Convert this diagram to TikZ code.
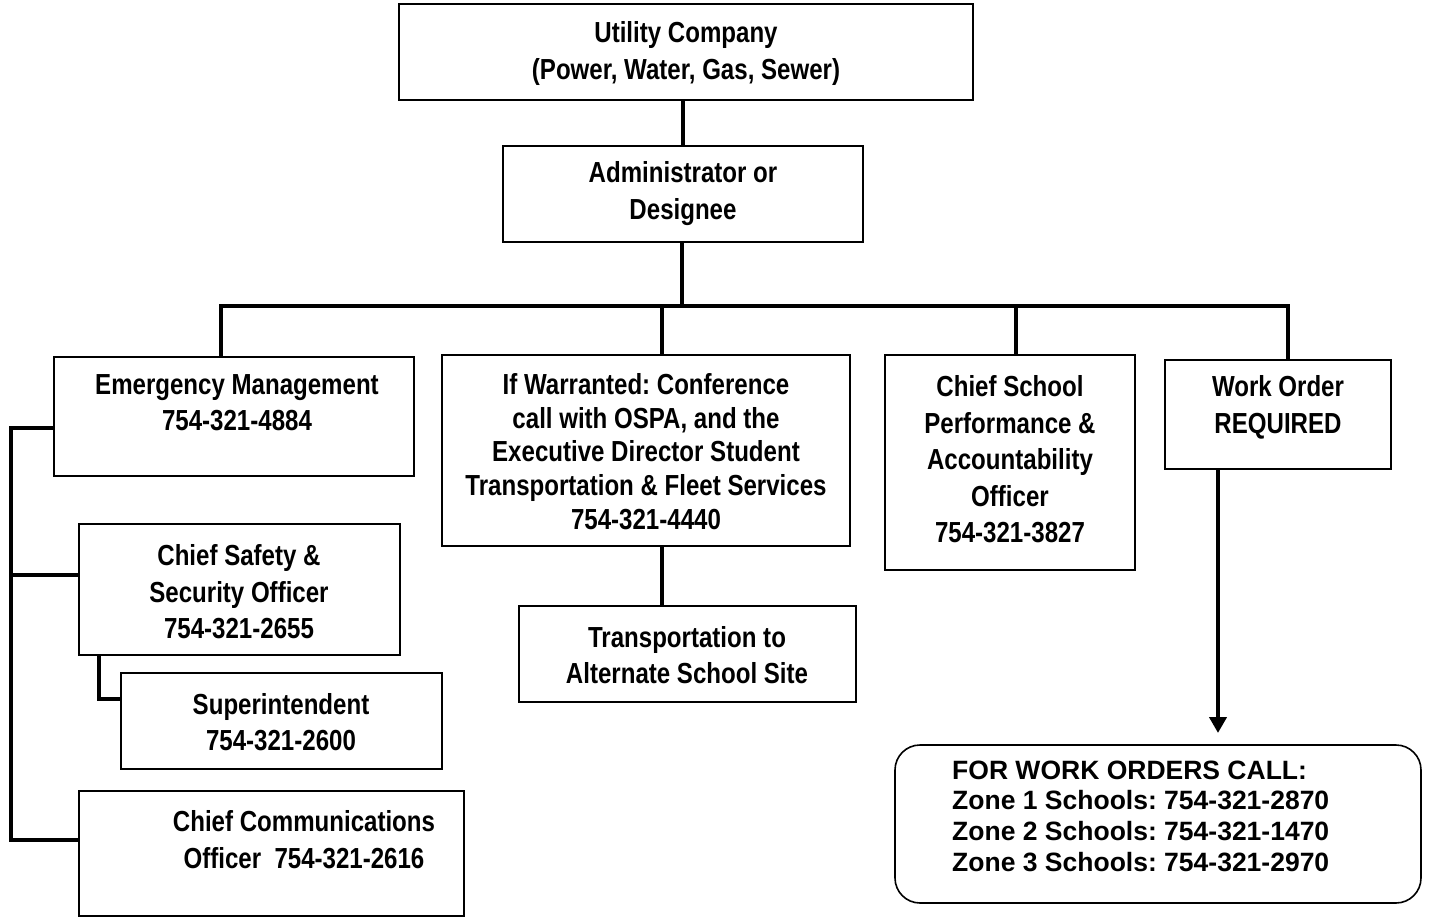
\documentclass[tikz,border=0pt]{standalone}
\usepackage{fontspec}
\setmainfont{Liberation Sans}
\newfontfamily\narrowsf{Liberation Sans}[FakeStretch=0.83]
\usetikzlibrary{arrows.meta}
\frenchspacing
\begin{document}
\begin{tikzpicture}[x=1pt,y=-1pt,
  box/.style={draw, line width=1.6pt, inner sep=0pt},
  txt/.style={font=\narrowsf\bfseries\fontsize{29}{36.5}\selectfont, align=center, inner sep=0pt},
  txttight/.style={font=\narrowsf\bfseries\fontsize{29}{33.8}\selectfont, align=center, inner sep=0pt},
  calltxt/.style={font=\bfseries\fontsize{26.5}{30.7}\selectfont, align=left, inner sep=0pt},
  conn/.style={line width=4pt, line join=miter}]
\useasboundingbox (0,0) rectangle (1429,917);

% boxes
\node[box, minimum width=574pt, minimum height=96pt] (util) at (686,52) {};
\node[box, minimum width=360pt, minimum height=96pt] (admin) at (683,194) {};
\node[box, minimum width=360pt, minimum height=119pt] (emer) at (234,416.5) {};
\node[box, minimum width=408pt, minimum height=191pt] (conf) at (646,450.5) {};
\node[box, minimum width=250pt, minimum height=215pt] (chief) at (1010,462.5) {};
\node[box, minimum width=226pt, minimum height=109pt] (work) at (1278,414.5) {};
\node[box, minimum width=321pt, minimum height=131pt] (safety) at (239.5,589.5) {};
\node[box, minimum width=321pt, minimum height=96pt] (super) at (281.5,721) {};
\node[box, minimum width=385pt, minimum height=125pt] (comm) at (271.5,853.5) {};
\node[box, minimum width=337pt, minimum height=96pt] (trans) at (687.5,654) {};
\node[box, rounded corners=25pt, minimum width=526pt, minimum height=158pt] (calls) at (1158,824) {};

% box texts
\node[txt] (util-t) at (686,53.5) {Utility Company\\(Power, Water, Gas, Sewer)};
\node[txt] (admin-t) at (683,193.5) {Administrator or\\Designee};
\node[txt] (emer-t) at (237,402.5) {Emergency Management\\754-321-4884};
\node[txttight] (conf-t) at (646,451.5) {If Warranted: Conference\\call with OSPA, and the\\Executive Director Student\\Transportation \& Fleet Services\\754-321-4440};
\node[txt] (chief-t) at (1010,459.5) {Chief School\\Performance \&\\Accountability\\Officer\\754-321-3827};
\node[txt] (work-t) at (1278,407.5) {Work Order\\REQUIRED};
\node[txt] (safety-t) at (239,592) {Chief Safety \&\\Security Officer\\754-321-2655};
\node[txt] (super-t) at (281,722) {Superintendent\\754-321-2600};
\node[txt] (comm-t) at (304,839.5) {Chief Communications\\Officer\ \ 754-321-2616};
\node[txt] (trans-t) at (687,655) {Transportation to\\Alternate School Site};
\node[calltxt, anchor=west] (calls-t) at (952,816) {FOR WORK ORDERS CALL:\\Zone 1 Schools: 754-321-2870\\Zone 2 Schools: 754-321-1470\\Zone 3 Schools: 754-321-2970};

% main chain
\draw[conn] (util.south -| admin.north) -- (admin.north);
\coordinate (bus) at (682,306);
\coordinate (d1) at (221,306);
\coordinate (d2) at (662,306);
\coordinate (d3) at (1016,306);
\coordinate (d4) at (1288,306);
\draw[conn] (admin.south -| bus) -- (bus);
\draw[conn] (d1 |- emer.north) -- (d1) -- (d4) -- (d4 |- work.north);
\draw[conn] (d2) -- (d2 |- conf.north);
\draw[conn] (d3) -- (d3 |- chief.north);
\draw[conn] (conf.south -| d2) -- (d2 |- trans.north);

% left bracket
\coordinate (bk1) at (11,428);
\coordinate (bk2) at (11,575);
\coordinate (bk3) at (11,840);
\draw[conn] (bk1 -| emer.west) -- (bk1) -- (bk3) -- (bk3 -| comm.west);
\draw[conn] (bk2) -- (bk2 -| safety.west);
\coordinate (sk) at (99,699);
\draw[conn] (sk |- safety.south) -- (sk) -- (sk -| super.west);

% work order arrow
\coordinate (arr) at (1218,733);
\draw[conn, -{Triangle[length=16pt,width=17pt]}] (arr |- work.south) -- (arr);
\end{tikzpicture}
\end{document}
